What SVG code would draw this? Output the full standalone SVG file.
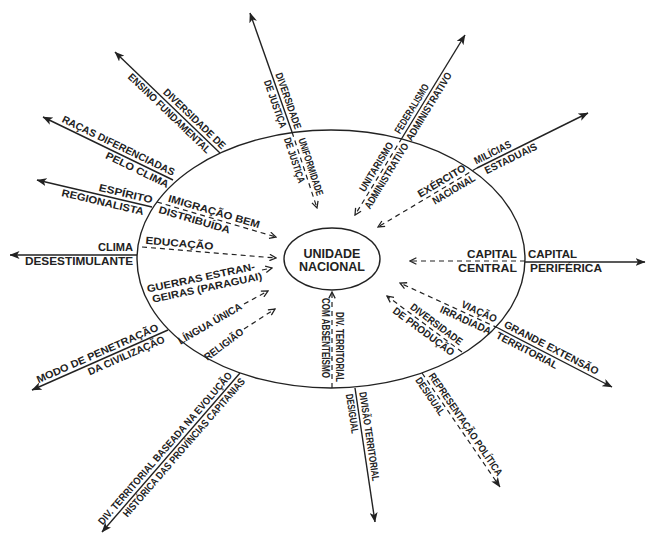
<svg xmlns="http://www.w3.org/2000/svg" width="649" height="540" viewBox="0 0 649 540">
<style>
text{font-family:"Liberation Sans",Arial,sans-serif;font-weight:bold;font-size:10.3px;fill:#222}
.c{font-size:12.5px;text-anchor:middle}
.s{stroke:#222;stroke-width:1.4;fill:none}
.d{stroke:#222;stroke-width:1.2;fill:none;stroke-dasharray:5 4}
</style>
<defs>
<marker id="ah" viewBox="0 0 10 8" refX="9.5" refY="4" markerWidth="10" markerHeight="8" markerUnits="userSpaceOnUse" orient="auto"><path d="M0,0 L10,4 L0,8 L2.5,4 z" fill="#222"/></marker>
<marker id="av" viewBox="0 0 10 10" refX="9" refY="5" markerWidth="8" markerHeight="8" markerUnits="userSpaceOnUse" orient="auto"><path d="M1,1 L9,5 L1,9" fill="none" stroke="#222" stroke-width="1.6"/></marker>
</defs>
<rect width="649" height="540" fill="#fff"/>
<g id="ellipse"><ellipse cx="331" cy="259" rx="194" ry="129" class="s" stroke-width="1.5"/></g>
<g id="center"><ellipse cx="332" cy="259" rx="48" ry="31" class="s"/><text class="c" x="332" y="258">UNIDADE</text><text class="c" x="332" y="271">NACIONAL</text></g>
<g id="connectors">
<line class="s" x1="292" y1="132" x2="250" y2="13" marker-end="url(#ah)"/>
<line class="s" x1="402" y1="138" x2="465" y2="35" marker-end="url(#ah)"/>
<line class="s" x1="477" y1="168" x2="588" y2="113" marker-end="url(#ah)"/>
<line class="s" x1="525" y1="262" x2="645" y2="262" marker-end="url(#ah)"/>
<line class="s" x1="498" y1="328" x2="612" y2="387" marker-end="url(#ah)"/>
<line class="d" x1="422" y1="373" x2="500" y2="487" marker-end="url(#ah)"/>
<line class="s" x1="355" y1="388" x2="375" y2="522" marker-end="url(#ah)"/>
<line class="s" x1="240" y1="373" x2="102" y2="532" marker-end="url(#ah)"/>
<line class="s" x1="168" y1="330" x2="32" y2="390" marker-end="url(#ah)"/>
<line class="s" x1="137" y1="255" x2="10" y2="255" marker-end="url(#ah)"/>
<line class="s" x1="152" y1="207" x2="37" y2="180" marker-end="url(#ah)"/>
<line class="s" x1="173" y1="180" x2="43" y2="117" marker-end="url(#ah)"/>
<line class="s" x1="220" y1="153" x2="115" y2="52" marker-end="url(#ah)"/>
<line class="d" x1="292" y1="132" x2="317" y2="208" marker-end="url(#av)"/>
<line class="d" x1="402" y1="138" x2="355" y2="215" marker-end="url(#av)"/>
<line class="d" x1="477" y1="168" x2="378" y2="227" marker-end="url(#av)"/>
<line class="d" x1="525" y1="261" x2="410" y2="261" marker-end="url(#av)"/>
<line class="d" x1="498" y1="328" x2="400" y2="283" marker-end="url(#av)"/>
<line class="d" x1="462" y1="352" x2="387" y2="296" marker-end="url(#av)"/>
<line class="d" x1="332" y1="388" x2="332" y2="292" marker-end="url(#av)"/>
<line class="d" x1="244" y1="329" x2="275" y2="309" marker-end="url(#av)"/>
<line class="d" x1="244" y1="304" x2="268" y2="291" marker-end="url(#av)"/>
<line class="d" x1="262" y1="270" x2="272" y2="268" marker-end="url(#av)"/>
<line class="d" x1="142" y1="247" x2="276" y2="258" marker-end="url(#av)"/>
<line class="d" x1="157" y1="202" x2="276" y2="237" marker-end="url(#av)"/>
</g>
<g id="justica-out" transform="translate(292,132) rotate(70.6)"><text x="-60" y="-3.5" textLength="59" lengthAdjust="spacingAndGlyphs">DIVERSIDADE</text><text x="-57" y="10" textLength="50" lengthAdjust="spacingAndGlyphs">DE JUSTIÇA</text></g>
<g id="justica-in" transform="translate(292,132) rotate(71.8)"><text x="9" y="-3.5" textLength="60" lengthAdjust="spacingAndGlyphs">UNIFORMIDADE</text><text x="4" y="10" textLength="47" lengthAdjust="spacingAndGlyphs">DE JUSTIÇA</text></g>
<g id="federal-out" transform="translate(402,138) rotate(-58.5)"><text x="2" y="-3.5" textLength="56" lengthAdjust="spacingAndGlyphs">FEDERALISMO</text><text x="2" y="10" textLength="78" lengthAdjust="spacingAndGlyphs">ADMINISTRATIVO</text></g>
<g id="federal-in" transform="translate(402,138) rotate(-58.6)"><text x="-66" y="-3.5" textLength="56" lengthAdjust="spacingAndGlyphs">UNITARISMO</text><text x="-78" y="10" textLength="75" lengthAdjust="spacingAndGlyphs">ADMINISTRATIVO</text></g>
<g id="milicias-out" transform="translate(477,168) rotate(-26.4)"><text x="1" y="-3.5" textLength="40" lengthAdjust="spacingAndGlyphs">MILÍCIAS</text><text x="6" y="10" textLength="57" lengthAdjust="spacingAndGlyphs">ESTADUAIS</text></g>
<g id="exercito-in" transform="translate(477,168) rotate(-30.8)"><text x="-64" y="-3.5" textLength="54" lengthAdjust="spacingAndGlyphs">EXÉRCITO</text><text x="-55" y="10" textLength="48" lengthAdjust="spacingAndGlyphs">NACIONAL</text></g>
<g id="capital-out" transform="translate(525,262)"><text x="3" y="-4" textLength="49" lengthAdjust="spacingAndGlyphs">CAPITAL</text><text x="5" y="9.5" textLength="72" lengthAdjust="spacingAndGlyphs">PERIFÉRICA</text></g>
<g id="capital-in" transform="translate(525,262)"><text x="-58" y="-4" textLength="50" lengthAdjust="spacingAndGlyphs">CAPITAL</text><text x="-67" y="9.5" textLength="59" lengthAdjust="spacingAndGlyphs">CENTRAL</text></g>
<g id="extensao-out" transform="translate(498,328) rotate(27.4)"><text x="4" y="-3.5" textLength="105" lengthAdjust="spacingAndGlyphs">GRANDE EXTENSÃO</text><text x="2" y="10" textLength="68" lengthAdjust="spacingAndGlyphs">TERRITORIAL</text></g>
<g id="viacao-in" transform="translate(498,328) rotate(24.7)"><text x="-43" y="-3.5" textLength="38" lengthAdjust="spacingAndGlyphs">VIAÇÃO</text><text x="-60" y="10" textLength="55" lengthAdjust="spacingAndGlyphs">IRRADIADA</text></g>
<g id="producao-in" transform="translate(462,352) rotate(36.7)"><text x="-68" y="-3.5" textLength="62" lengthAdjust="spacingAndGlyphs">DIVERSIDADE</text><text x="-80" y="10" textLength="74" lengthAdjust="spacingAndGlyphs">DE PRODUÇÃO</text></g>
<g id="representacao-out" transform="translate(422,373) rotate(55.6)"><text x="6" y="-3.5" textLength="122" lengthAdjust="spacingAndGlyphs">REPRESENTAÇÃO POLÍTICA</text><text x="2" y="10" textLength="44" lengthAdjust="spacingAndGlyphs">DESIGUAL</text></g>
<g id="divisao-out" transform="translate(355,388) rotate(81.5)"><text x="5" y="-3.5" textLength="90" lengthAdjust="spacingAndGlyphs">DIVISÃO TERRITORIAL</text><text x="5" y="10" textLength="40" lengthAdjust="spacingAndGlyphs">DESIGUAL</text></g>
<g id="divisao-in" transform="translate(332,388) rotate(90)"><text x="-76" y="-3.5" textLength="70" lengthAdjust="spacingAndGlyphs">DIV. TERRITORIAL</text><text x="-90" y="10" textLength="80" lengthAdjust="spacingAndGlyphs">COM ABSENTEÍSMO</text></g>
<g id="historica-out" transform="translate(240,373) rotate(-49)"><text x="-205" y="-3.5" textLength="198" lengthAdjust="spacingAndGlyphs">DIV. TERRITORIAL BASEADA NA EVOLUÇÃO</text><text x="-183" y="10" textLength="180" lengthAdjust="spacingAndGlyphs">HISTÓRICA DAS PROVÍNCIAS CAPITANIAS</text></g>
<g id="religiao-in" transform="translate(203,360) rotate(-37)"><text x="3" y="3.6" textLength="46" lengthAdjust="spacingAndGlyphs">RELIGIÃO</text></g>
<g id="lingua-in" transform="translate(176,343) rotate(-30)"><text x="3" y="3.6" textLength="72" lengthAdjust="spacingAndGlyphs">LÍNGUA ÚNICA</text></g>
<g id="modo-out" transform="translate(168,330) rotate(-23.8)"><text x="-140" y="-3.5" textLength="132" lengthAdjust="spacingAndGlyphs">MODO DE PENETRAÇÃO</text><text x="-90" y="10" textLength="83" lengthAdjust="spacingAndGlyphs">DA CIVILIZAÇÃO</text></g>
<g id="clima-out" transform="translate(137,255)"><text x="-39" y="-4" textLength="35" lengthAdjust="spacingAndGlyphs">CLIMA</text><text x="-112" y="9.5" textLength="108" lengthAdjust="spacingAndGlyphs">DESESTIMULANTE</text></g>
<g id="educacao-in" transform="translate(142,247) rotate(5)"><text x="3" y="-3.5" textLength="68" lengthAdjust="spacingAndGlyphs">EDUCAÇÃO</text></g>
<g id="guerras-in" transform="translate(146,294) rotate(-12)"><text x="2" y="-1" textLength="110" lengthAdjust="spacingAndGlyphs">GUERRAS ESTRAN-</text><text x="5" y="10" textLength="112" lengthAdjust="spacingAndGlyphs">GEIRAS (PARAGUAI)</text></g>
<g id="imigracao-in" transform="translate(157,202) rotate(16.4)"><text x="10" y="-3.5" textLength="95" lengthAdjust="spacingAndGlyphs">IMIGRAÇÃO BEM</text><text x="4" y="10" textLength="74" lengthAdjust="spacingAndGlyphs">DISTRIBUÍDA</text></g>
<g id="espirito-out" transform="translate(152,207) rotate(13.2)"><text x="-56" y="-3.5" textLength="55" lengthAdjust="spacingAndGlyphs">ESPÍRITO</text><text x="-91" y="10" textLength="84" lengthAdjust="spacingAndGlyphs">REGIONALISTA</text></g>
<g id="racas-out" transform="translate(173,180) rotate(25.9)"><text x="-126" y="-3.5" textLength="124" lengthAdjust="spacingAndGlyphs">RAÇAS DIFERENCIADAS</text><text x="-71" y="10" textLength="69" lengthAdjust="spacingAndGlyphs">PELO CLIMA</text></g>
<g id="ensino-out" transform="translate(220,153) rotate(43.9)"><text x="-83" y="-3.5" textLength="82" lengthAdjust="spacingAndGlyphs">DIVERSIDADE DE</text><text x="-119" y="10" textLength="110" lengthAdjust="spacingAndGlyphs">ENSINO FUNDAMENTAL</text></g>
</svg>
